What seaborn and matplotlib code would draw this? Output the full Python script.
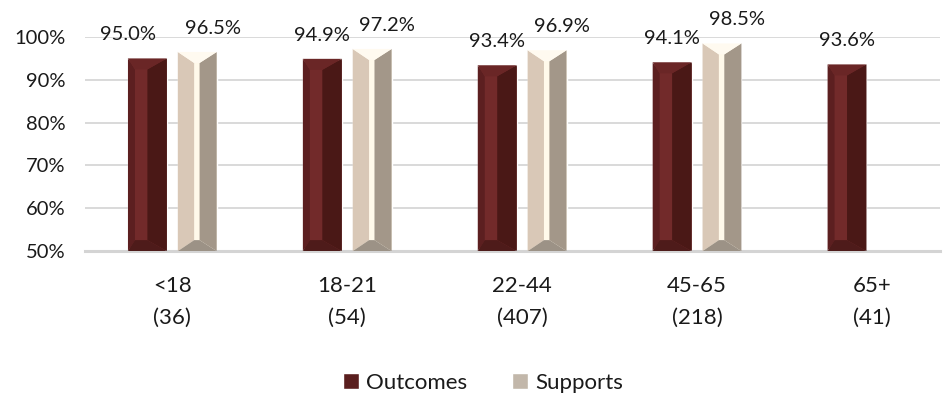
import numpy as np
import pandas as pd
import seaborn as sns
from matplotlib import pyplot as plt
from matplotlib.patches import Polygon, Patch

# values
age_groups = ["<18\n(36)", "18-21\n(54)", "22-44\n(407)", "45-65\n(218)", "65+\n(41)"]
outcomes = [95.0, 94.9, 93.4, 94.1, 93.6]
supports = [96.5, 97.2, 96.9, 98.5, np.nan]
series = ["Outcomes", "Supports"]

df = pd.DataFrame({
    "group": age_groups * 2,
    "pct": outcomes + supports,
    "series": ["Outcomes"] * len(age_groups) + ["Supports"] * len(age_groups),
})

sns.set_theme(style="white")
plt.rcParams["font.family"] = ["Lato", "DejaVu Sans"]

# face colours: centre, left, right, top, bottom
faces = {
    "Outcomes": dict(center="#722a2a", left="#5c1f20", right="#4a1816", top="#6a2626", bottom="#4e1b1a"),
    "Supports": dict(center="#fff9ea", left="#d9c8b7", right="#a39789", top="#fffaf0", bottom="#9c9286"),
}

fig = plt.figure(figsize=(9.43, 4.11), dpi=100)
ax = fig.add_axes([0.090, 0.389, 0.907, 0.521])

sns.barplot(data=df, x="group", y="pct", hue="series", hue_order=series,
            palette=[faces[s]["center"] for s in series],
            width=0.57, gap=0.22, saturation=1, legend=False, ax=ax)

ax.set_ylim(50, 100)
ax.set_xlim(-0.5, 4.39)
ax.set_yticks(range(50, 101, 10))
ax.set_yticklabels([f"{v}%" for v in range(50, 101, 10)], fontsize=14.5)
ax.tick_params(axis="x", labelsize=16, pad=18, length=0)
ax.tick_params(axis="y", length=0, pad=14)
for lab in ax.get_xticklabels():
    lab.set_linespacing(1.72)
    lab.set_color("#1a1a1a")
for lab in ax.get_yticklabels():
    lab.set_color("#1a1a1a")
ax.set_xlabel("")
ax.set_ylabel("")
ax.yaxis.grid(True, color="#d9d9d9", linewidth=1.4)
ax.set_axisbelow(True)
for side in ["left", "right", "top"]:
    ax.spines[side].set_visible(False)
ax.spines["bottom"].set_color("#d4d4d4")
ax.spines["bottom"].set_linewidth(2.2)

# bevel overlay for the 3D-ish look
fig.canvas.draw()
px_per_unit = (ax.transData.transform((0, 60))[1] - ax.transData.transform((0, 50))[1]) / 10
dy = 11 / px_per_unit
inner = {"Outcomes": (0.18, 0.50), "Supports": (0.42, 0.56)}
for s, cont in zip(series, ax.containers):
    col = faces[s]
    a, c = inner[s]
    for bar in cont:
        h = bar.get_height()
        if np.isnan(h):
            continue
        x0, w = bar.get_x(), bar.get_width()
        x1 = x0 + w
        y0, y1 = 50, h
        L, R = x0 + a * w, x0 + c * w
        polys = [
            ([(x0, y0), (x0, y1), (L, y1 - dy), (L, y0 + dy)], col["left"]),
            ([(x1, y0), (x1, y1), (R, y1 - dy), (R, y0 + dy)], col["right"]),
            ([(x0, y1), (x1, y1), (R, y1 - dy), (L, y1 - dy)], col["top"]),
            ([(x0, y0), (x1, y0), (R, y0 + dy), (L, y0 + dy)], col["bottom"]),
        ]
        for pts, fc in polys:
            ax.add_patch(Polygon(pts, closed=True, facecolor=fc, edgecolor="none", zorder=3))

# value labels
for i in range(len(age_groups)):
    o, s = outcomes[i], supports[i]
    close = not np.isnan(s) and abs(s - o) < 2
    bo = ax.containers[0][i]
    ax.annotate(f"{o:.1f}%", (bo.get_x() + bo.get_width() / 2, o),
                xytext=(-14 if close else 0, 11), textcoords="offset points",
                ha="center", va="bottom", fontsize=14.5, color="#1a1a1a", annotation_clip=False)
    if not np.isnan(s):
        bs = ax.containers[1][i]
        ax.annotate(f"{s:.1f}%", (bs.get_x() + bs.get_width() / 2, s),
                    xytext=(11, 11), textcoords="offset points",
                    ha="center", va="bottom", fontsize=14.5, color="#1a1a1a", annotation_clip=False)

handles = [Patch(facecolor="#5a1e1e", label="Outcomes"), Patch(facecolor="#c2b7aa", label="Supports")]
fig.legend(handles=handles, loc="center", bbox_to_anchor=(0.512, 0.068), ncol=2, frameon=False,
           fontsize=16, handlelength=0.75, handleheight=0.75, handletextpad=0.3, columnspacing=2.0,
           labelcolor="#1a1a1a")

fig.savefig("out.png", dpi=100)
